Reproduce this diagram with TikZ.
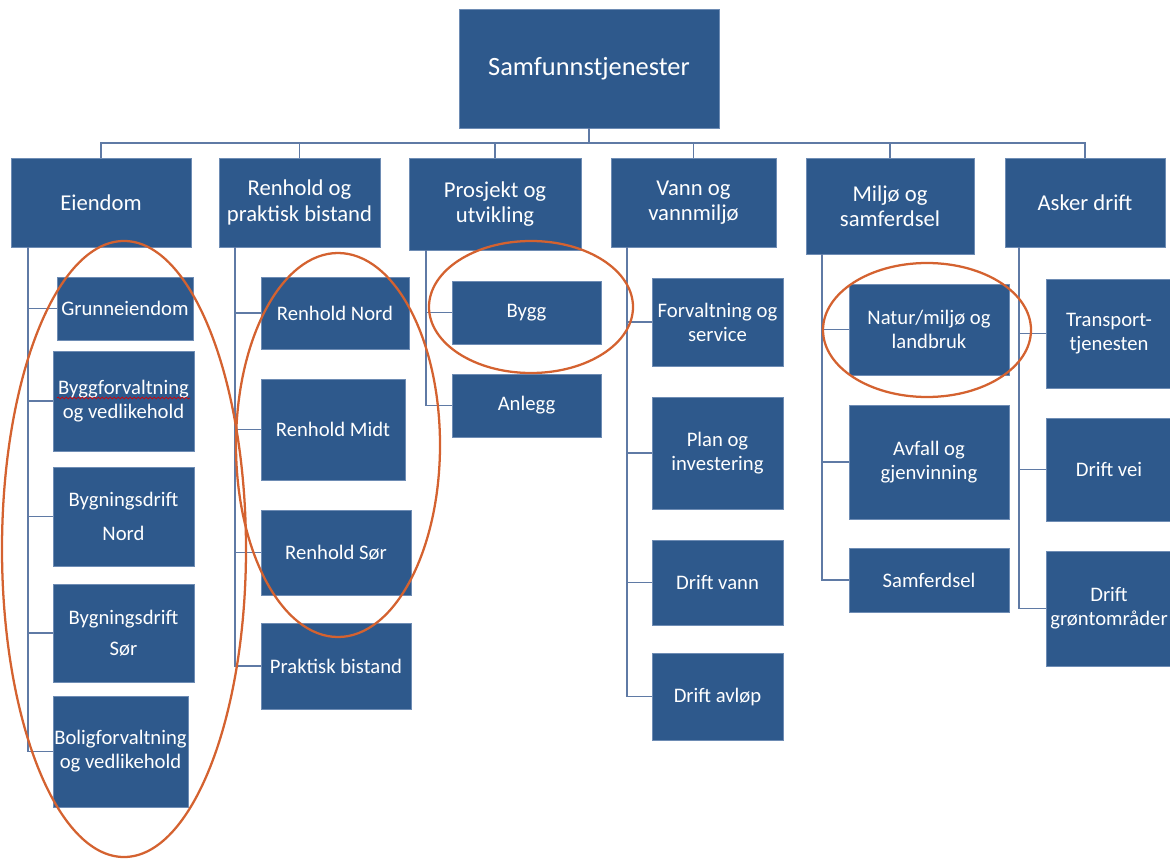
\documentclass[tikz,border=0pt]{standalone}
\usepackage{fontspec}
\setmainfont{Carlito}
\usetikzlibrary{calc,decorations.pathmorphing}
\definecolor{boxblue}{RGB}{46,89,140}
\definecolor{boxedge}{RGB}{110,140,180}
\definecolor{lineblue}{RGB}{95,122,165}
\definecolor{ellorange}{RGB}{212,98,48}
\newcommand\bx[7][]{\node[box,#1,minimum width={(#5-#3)*0.75pt},minimum height={(#6-#4)*0.75pt}] (#2) at ({(#3+#5)/2},{(#4+#6)/2}) {#7};}
\begin{document}
\begin{tikzpicture}[x=0.75pt,y=-0.75pt,
  box/.style={draw=boxedge,line width=0.5pt,fill=boxblue,text=white,inner sep=0pt,align=center,font=\fontsize{15.5}{18}\selectfont},
  lvl/.style={font=\fontsize{17}{19}\selectfont},
  topbox/.style={font=\fontsize{19.8}{23}\selectfont},
  conn/.style={draw=lineblue,line width=1.3pt},
  ell/.style={draw=ellorange,line width=1.7pt}]
\useasboundingbox (0,0) rectangle (1170,859);
% top and level 1
\bx[topbox]{top}{459}{9}{719}{128}{Samfunnstjenester}
\bx[lvl]{eien}{11}{158}{191}{247}{Eiendom}
\bx[lvl]{renh}{219}{158}{380}{247}{Renhold og\\praktisk bistand}
\bx[lvl]{pros}{409}{158}{581}{250}{Prosjekt og\\utvikling}
\bx[lvl]{vann}{611}{158}{776}{247}{Vann og\\vannmiljø}
\bx[lvl]{milj}{806}{158}{974}{254}{Miljø og\\samferdsel}
\bx[lvl]{asker}{1005}{158}{1165}{247}{Asker drift}
% level 2
\bx{grunn}{57}{277}{193}{340}{Grunneiendom}
\bx{byggf}{53}{351}{194}{451}{Byggforvaltning\\og vedlikehold}
\bx[font=\fontsize{15.5}{25}\selectfont]{bnord}{53}{467}{194}{566}{Bygningsdrift\\Nord}
\bx[font=\fontsize{15.5}{23.5}\selectfont]{bsor}{53}{584}{194}{682}{Bygningsdrift\\Sør}
\bx{bolig}{53}{696}{188}{807}{Boligforvaltning\\og vedlikehold}
\bx{rnord}{261}{277}{409}{349}{Renhold Nord}
\bx{rmidt}{261}{379}{405}{480}{Renhold Midt}
\bx{rsor}{261}{510}{411}{595}{Renhold Sør}
\bx{prakt}{261}{623}{411}{709}{Praktisk bistand}
\bx{bygg}{452}{281}{601}{344}{Bygg}
\bx{anlegg}{452}{374}{601}{437}{Anlegg}
\bx{forv}{652}{278}{783}{366}{Forvaltning og\\service}
\bx{plan}{652}{397}{783}{509}{Plan og\\investering}
\bx{dvann}{652}{540}{783}{625}{Drift vann}
\bx{davlop}{652}{653}{783}{740}{Drift avløp}
\bx{natur}{849}{284}{1009}{375}{Natur/miljø og\\landbruk}
\bx{avfall}{849}{405}{1009}{519}{Avfall og\\gjenvinning}
\bx{samf}{849}{548}{1009}{612}{Samferdsel}
\bx{transp}{1046}{279}{1172}{388}{Transport-\\tjenesten}
\bx{dvei}{1046}{418}{1172}{521}{Drift vei}
\bx{dgront}{1046}{551}{1172}{666}{Drift\\grøntområder}
% connectors
\foreach \n in {eien,renh,pros,vann,milj,asker}
  \draw[conn] (top.south) -- ++(0,15) -| (\n.north);
\foreach \c in {grunn,byggf,bnord,bsor,bolig}
  \draw[conn] ($(eien.south west)+(17,0)$) |- (\c.west);
\foreach \c in {rnord,rmidt,rsor,prakt}
  \draw[conn] ($(renh.south west)+(16,0)$) |- (\c.west);
\foreach \c in {bygg,anlegg}
  \draw[conn] ($(pros.south west)+(17,0)$) |- (\c.west);
\foreach \c in {forv,plan,dvann,davlop}
  \draw[conn] ($(vann.south west)+(16,0)$) |- (\c.west);
\foreach \c in {natur,avfall,samf}
  \draw[conn] ($(milj.south west)+(16,0)$) |- (\c.west);
\foreach \c in {transp,dvei,dgront}
  \draw[conn] ($(asker.south west)+(14,0)$) |- (\c.west);
% spell-check squiggle
\draw[red!85!black,line width=0.5pt,decorate,decoration={snake,amplitude=0.7pt,segment length=3pt}] (57,398) -- (190,398);
% highlight ellipses
\draw[ell] (124,549) ellipse [x radius=91.5pt, y radius=231pt];
\draw[ell] (338,445) ellipse [x radius=76.5pt, y radius=144pt];
\draw[ell] (531,307) ellipse [x radius=76.5pt, y radius=49.5pt];
\draw[ell] (927,330) ellipse [x radius=78pt, y radius=50.25pt];
\end{tikzpicture}
\end{document}
